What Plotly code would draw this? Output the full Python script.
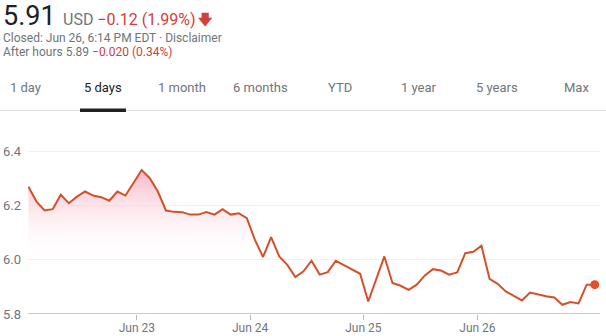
import plotly.graph_objects as go

# ---- data ----
prices = [6.269, 6.214, 6.181, 6.186, 6.239, 6.208, 6.232, 6.251, 6.236, 6.230,
          6.217, 6.251, 6.236, 6.282, 6.330, 6.300, 6.251, 6.181, 6.176, 6.175,
          6.166, 6.166, 6.175, 6.166, 6.186, 6.166, 6.171, 6.153, 6.073, 6.010,
          6.083, 6.012, 5.981, 5.936, 5.957, 5.996, 5.945, 5.954, 5.996, 5.980,
          5.965, 5.948, 5.846, 5.930, 6.012, 5.914, 5.904, 5.889, 5.908, 5.942,
          5.965, 5.960, 5.945, 5.953, 6.024, 6.029, 6.051, 5.929, 5.911, 5.883,
          5.865, 5.850, 5.879, 5.871, 5.865, 5.861, 5.834, 5.844, 5.839, 5.908,
          5.908]
idx = list(range(len(prices)))
day_tick_pos = [13.4, 27.4, 41.4, 55.5]
day_tick_text = ["Jun 23", "Jun 24", "Jun 25", "Jun 26"]
y_ticks = [5.8, 6.0, 6.2, 6.4]
y_tick_text = ["5.8", "6.0", "6.2", "6.4"]
tabs = ["1 day", "5 days", "1 month", "6 months", "YTD", "1 year", "5 years", "Max"]
tab_centers = [25, 103, 182, 260, 340, 419, 497, 576]
active_tab = "5 days"

W, H = 606, 336
ML, MR, MT, MB = 28, 6, 135, 22
PW, PH = W - ML - MR, H - MT - MB

def px(x):
    return (x - ML) / PW

def py(y):
    return (H - MB - y) / PH

LINE = "#d4502a"
RED = "#d0413a"
GRAY = "#70757a"
FONT = "Roboto"

fig = go.Figure()
fig.add_trace(go.Scatter(
    x=idx, y=prices, mode="lines",
    line=dict(color=LINE, width=2),
    fill="tozeroy",
    fillgradient=dict(type="vertical", start=5.99, stop=6.33,
                      colorscale=[[0, "rgba(255,255,255,0)"],
                                  [1, "rgba(246,170,190,0.85)"]]),
    hoverinfo="skip", showlegend=False))
fig.add_trace(go.Scatter(
    x=[idx[-1]], y=[prices[-1]], mode="markers",
    marker=dict(color="#e0512b", size=9),
    hoverinfo="skip", showlegend=False))

ann = []
def txt(x, y, text, size, color, anchor="left"):
    ann.append(dict(x=px(x), y=py(y), xref="paper", yref="paper", text=text,
                    showarrow=False, xanchor=anchor, yanchor="middle",
                    font=dict(family=FONT, size=size, color=color)))

txt(1, 16, "5.91", 27, "#202124")
txt(61, 19, "USD <span style='color:%s'>−0.12 (1.99%%)</span>" % RED, 16, GRAY)
ann.append(dict(x=px(196), y=py(19), xref="paper", yref="paper", text="<b>🡇</b>",
                showarrow=False, xanchor="left", yanchor="middle",
                font=dict(family="DejaVu Sans", size=14, color=RED)))
txt(1, 38, "Closed: Jun 26, 6:14 PM EDT · Disclaimer", 12, GRAY)
txt(1, 52, "After hours 5.89 <span style='color:%s'>−0.020 (0.34%%)</span>" % RED, 12, GRAY)
for t, c in zip(tabs, tab_centers):
    txt(c, 87, t, 13, "#202124" if t == active_tab else GRAY, anchor="center")

shapes = [
    dict(type="line", xref="paper", yref="paper", x0=px(0), x1=px(W),
         y0=py(110.5), y1=py(110.5), line=dict(color="#e2e2e2", width=1)),
    dict(type="rect", xref="paper", yref="paper", x0=px(80), x1=px(126),
         y0=py(112), y1=py(108.5), fillcolor="#202124", line=dict(width=0)),
]

fig.update_layout(
    width=W, height=H, margin=dict(l=ML, r=MR, t=MT, b=MB, autoexpand=False),
    paper_bgcolor="white", plot_bgcolor="white",
    annotations=ann, shapes=shapes,
    xaxis=dict(range=[-0.05, 70.65], tickvals=day_tick_pos, ticktext=day_tick_text,
               showgrid=False, zeroline=False, showline=False, automargin=False,
               ticks="outside", ticklen=5, tickcolor="#bbbbbb", tickwidth=1,
               ticklabelstandoff=-2,
               tickfont=dict(family=FONT, size=12, color=GRAY)),
    yaxis=dict(range=[5.8, 6.459], tickvals=y_ticks, ticktext=y_tick_text,
               showgrid=True, gridcolor="#f1f1f1", gridwidth=1, zeroline=False,
               showline=False, ticks="", ticklabelstandoff=6, automargin=False,
               tickfont=dict(family=FONT, size=13, color=GRAY)),
)
fig.add_shape(type="line", xref="paper", yref="y", x0=0, x1=1, y0=5.8, y1=5.8,
              line=dict(color="#cccccc", width=2), layer="above")

fig.write_html("out.html")
